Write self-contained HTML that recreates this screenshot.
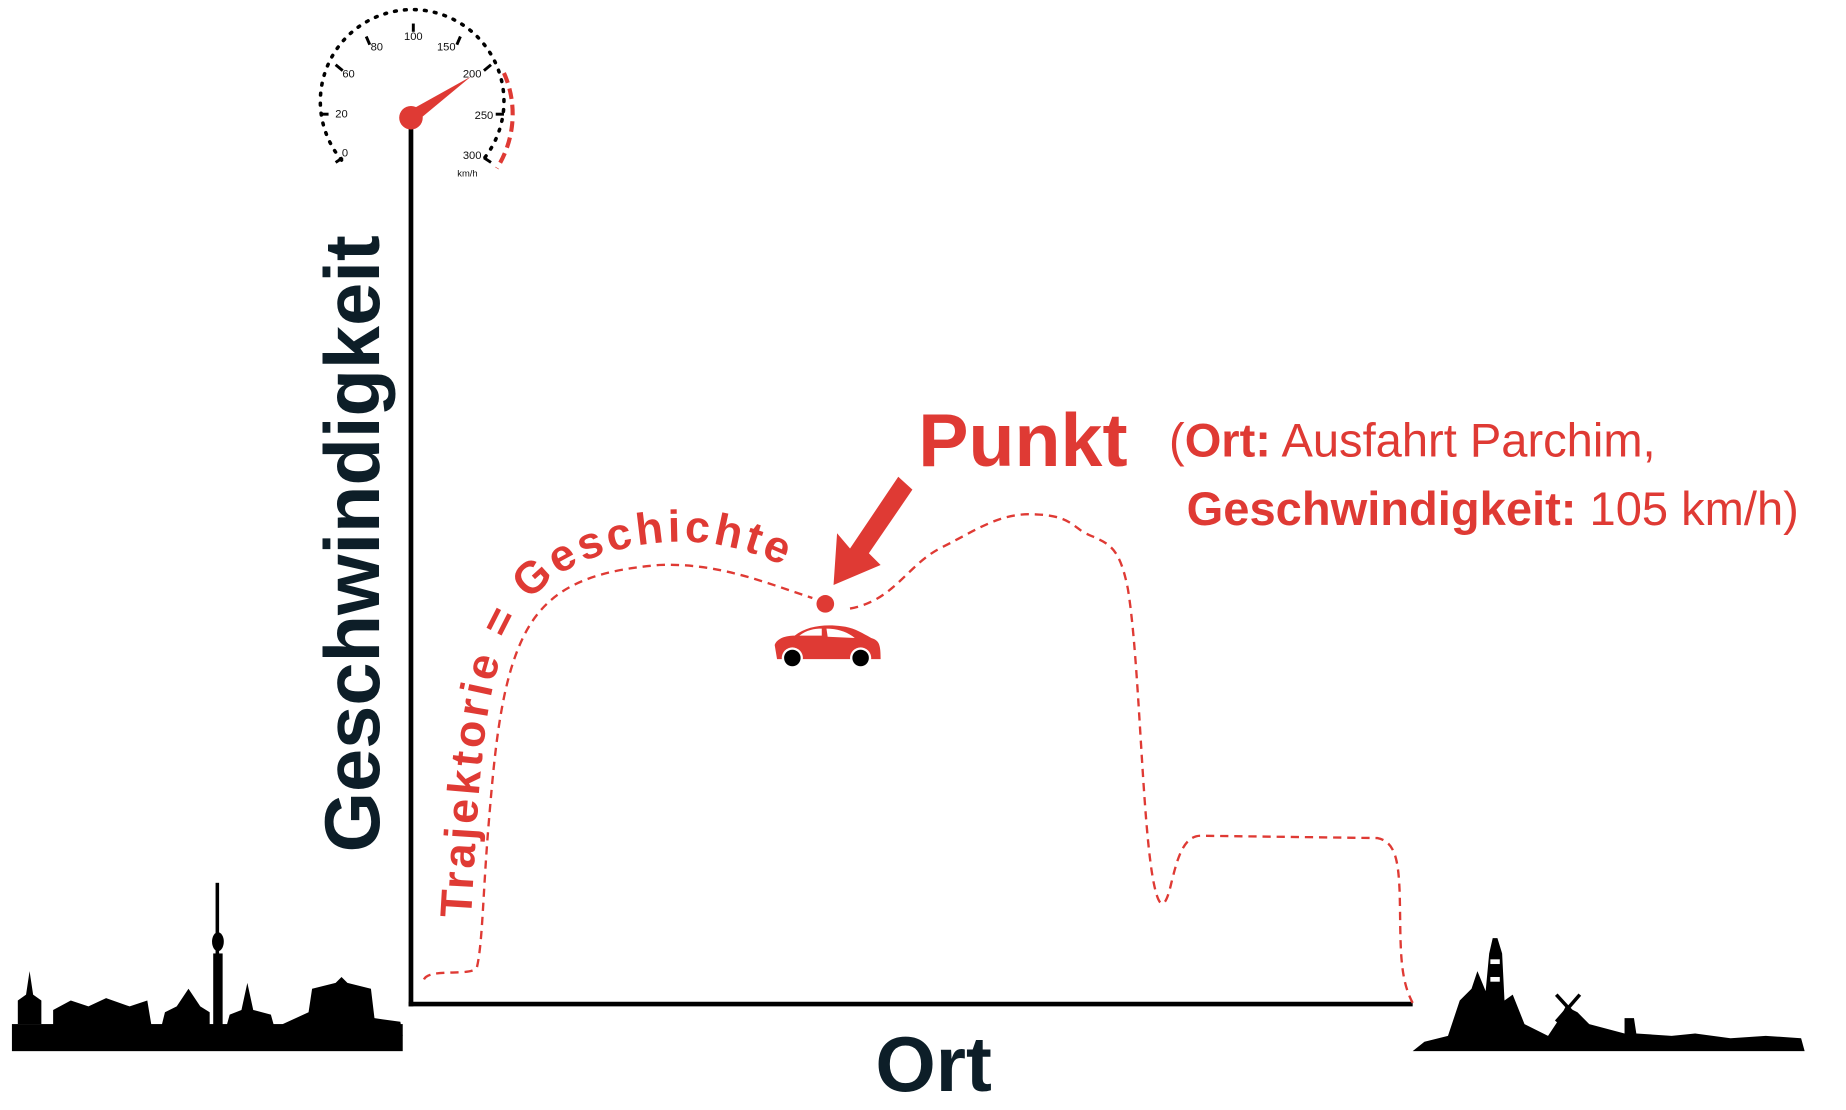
<!DOCTYPE html>
<html><head><meta charset="utf-8"><style>
html,body{margin:0;padding:0;background:#fff;}
svg{display:block}
</style></head><body>
<svg width="1846" height="1110" viewBox="0 0 1568 943" xmlns="http://www.w3.org/2000/svg" font-family="Liberation Sans, sans-serif">
<rect width="1568" height="943" fill="#fff"/>
<line x1="349" y1="100" x2="349" y2="855" stroke="#000" stroke-width="4"/>
<line x1="347" y1="853" x2="1200" y2="853" stroke="#000" stroke-width="4"/>
<path d="M 290 136 A 78 78 0 1 1 410 136" fill="none" stroke="#000" stroke-width="3" stroke-dasharray="1.5 7" stroke-linecap="round"/>
<g stroke="#000" stroke-width="2.5">
<line x1="285" y1="138" x2="291" y2="134"/>
<line x1="272" y1="97" x2="279" y2="97"/>
<line x1="285" y1="55" x2="291" y2="60"/>
<line x1="311" y1="31" x2="314" y2="38"/>
<line x1="351" y1="20" x2="351" y2="27"/>
<line x1="391" y1="31" x2="388" y2="38"/>
<line x1="417" y1="55" x2="411" y2="60"/>
<line x1="428" y1="97" x2="421" y2="97"/>
<line x1="417" y1="138" x2="411" y2="134"/>
</g>
<path d="M 428 62 A 86 86 0 0 1 422 143" fill="none" stroke="#df3a34" stroke-width="3.5" stroke-dasharray="9 5"/>
<g font-size="9.5" fill="#111" text-anchor="middle">
<text x="293" y="133">0</text><text x="290" y="100">20</text><text x="296" y="66">60</text>
<text x="320" y="43">80</text><text x="351" y="34">100</text><text x="379" y="43">150</text>
<text x="401" y="66">200</text><text x="411" y="101">250</text><text x="401" y="135">300</text>
<text x="397" y="150" font-size="8">km/h</text>
</g>
<polygon points="346,95 353,104 400,65" fill="#df3a34"/>
<circle cx="349" cy="100" r="10" fill="#df3a34"/>
<text transform="translate(322,462) rotate(-90)" text-anchor="middle" font-size="66" font-weight="bold" fill="#0d1e28">Geschwindigkeit</text>
<text x="793" y="927" text-anchor="middle" font-size="66" font-weight="bold" fill="#0d1e28">Ort</text>
<path d="M 360 832 C 365 822 400 830 405 822 C 410 800 410 760 415 700 C 420 640 425 580 445 540 C 465 500 500 485 560 480 C 610 478 650 495 690 508 M 722 517 C 760 510 770 480 800 465 C 830 450 850 435 880 437 C 905 438 910 445 920 452 C 940 462 950 460 958 500 C 968 560 970 700 980 750 C 985 775 990 772 995 750 C 1000 730 1005 710 1020 710 L 1170 712 C 1185 715 1188 730 1189 760 C 1190 800 1188 830 1200 852" fill="none" stroke="#df3a34" stroke-width="2" stroke-dasharray="7 5"/>
<path id="tp" d="M 400 780 C 405 700 408 610 425 560 C 440 510 470 480 530 466 C 590 452 640 464 690 494" fill="none"/>
<text font-size="38" font-weight="bold" fill="#df3a34" letter-spacing="3"><textPath href="#tp">Trajektorie = Geschichte</textPath></text>
<text x="780" y="396" font-size="64" font-weight="bold" fill="#df3a34">Punkt</text>
<text x="993" y="388" font-size="40" fill="#df3a34">(<tspan font-weight="bold">Ort:</tspan> Ausfahrt Parchim,</text>
<text x="1008" y="446" font-size="40" fill="#df3a34"><tspan font-weight="bold">Geschwindigkeit:</tspan> 105 km/h)</text>
<polygon points="763,405 775,416 738,470 748,480 708,497 711,453 722,466" fill="#df3a34"/>
<circle cx="701" cy="513" r="7.5" fill="#df3a34"/>
<path d="M 660 560 L 658 548 C 660 542 668 540 675 540 C 685 532 700 530 715 532 C 725 533 733 538 740 542 C 747 544 748 548 748 560 Z" fill="#df3a34"/>
<path d="M 679 540 C 685 535 692 534 698 534 L 698 540 Z M 702 534 C 712 534 720 537 726 542 L 703 541 Z" fill="#fff"/>
<circle cx="673" cy="559" r="9" fill="#fff"/><circle cx="673" cy="559" r="7" fill="#000"/>
<circle cx="731" cy="559" r="9" fill="#fff"/><circle cx="731" cy="559" r="7" fill="#000"/>
<g fill="#000">
<rect x="10" y="870" width="332" height="23"/>
<rect x="183" y="750" width="3" height="120"/>
<ellipse cx="185" cy="800" rx="5" ry="8"/>
<rect x="181" y="810" width="8" height="70"/>
<path d="M 15 870 L 15 850 L 22 845 L 25 825 L 28 845 L 35 850 L 35 870 Z"/>
<path d="M 45 880 L 45 858 L 60 850 L 75 855 L 90 848 L 110 855 L 125 850 L 130 880 Z"/>
<path d="M 135 880 L 140 860 L 150 855 L 160 840 L 170 855 L 178 860 L 178 880 Z"/>
<path d="M 190 880 L 195 862 L 205 858 L 210 835 L 215 858 L 230 862 L 235 880 Z"/>
<path d="M 238 880 L 240 870 L 262 860 L 265 840 L 285 835 L 290 830 L 295 835 L 315 840 L 318 865 L 340 868 L 342 880 Z"/>
</g>
<g fill="#000">
<path d="M 1200 893 L 1210 885 L 1230 880 L 1240 850 L 1250 840 L 1255 825 L 1262 842 L 1265 810 L 1268 797 L 1272 797 L 1276 810 L 1278 850 L 1285 845 L 1295 870 L 1315 880 L 1325 865 L 1330 855 L 1340 860 L 1350 870 L 1380 878 L 1380 865 L 1388 865 L 1390 878 L 1420 880 L 1440 878 L 1470 882 L 1500 880 L 1530 882 L 1533 893 Z"/>
<line x1="1322" y1="845" x2="1343" y2="868" stroke="#000" stroke-width="3"/>
<line x1="1342" y1="845" x2="1322" y2="868" stroke="#000" stroke-width="3"/>
</g>
<g fill="#fff"><rect x="1266" y="815" width="8" height="4"/><rect x="1266" y="830" width="8" height="4"/></g>
</svg>
</body></html>
